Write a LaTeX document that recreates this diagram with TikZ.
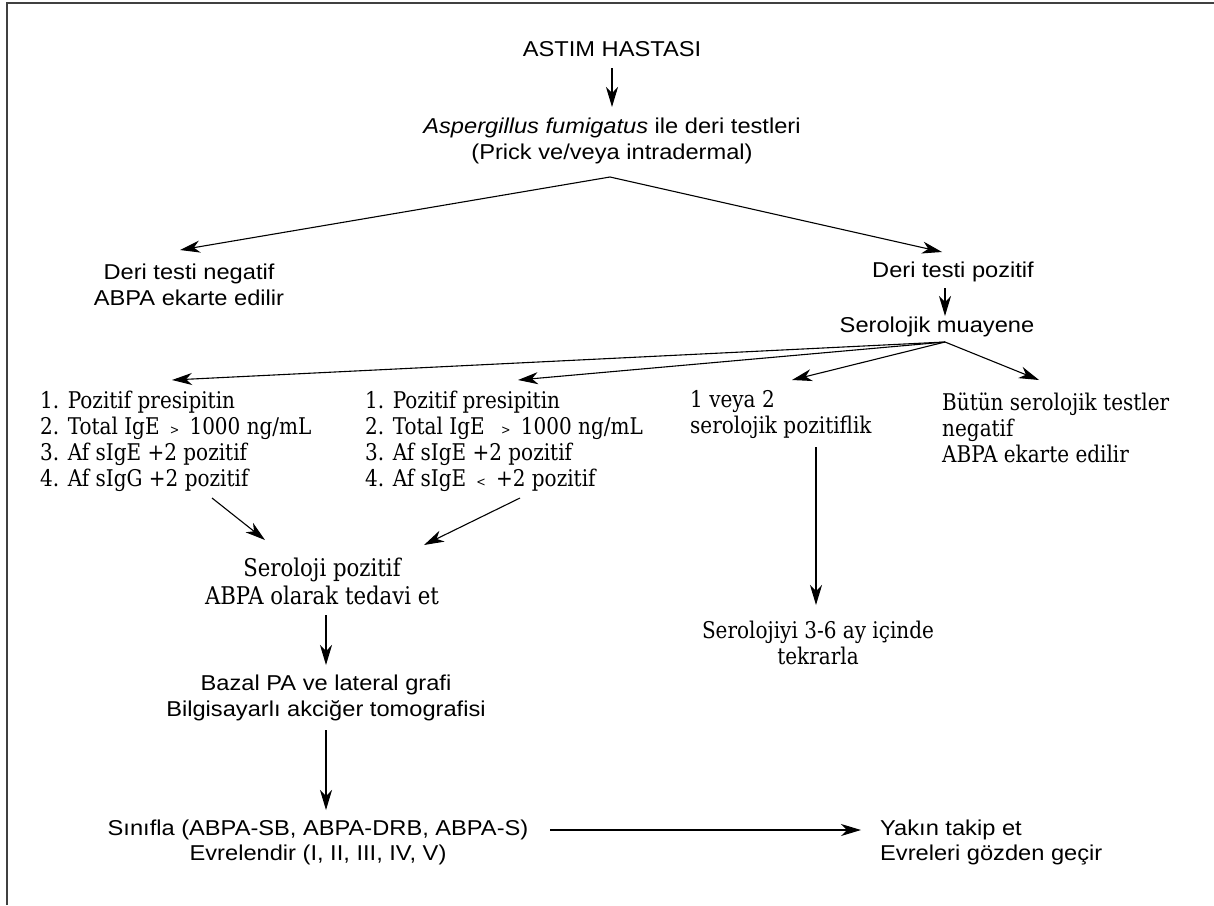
\documentclass[tikz,border=0pt]{standalone}
\usepackage{fontspec}
\usetikzlibrary{arrows.meta}
\newfontfamily\cfont[FakeStretch=1.1]{Liberation Sans}
\newfontfamily\sfont[FakeStretch=0.87]{DejaVu Serif}
\newcommand{\smsym}[1]{{\fontsize{13}{13}\selectfont #1}}
\begin{document}
\begin{tikzpicture}[x=1pt,y=-1pt,
  cond/.style={inner sep=0pt, align=center, font=\cfont\fontsize{21.5}{25}\selectfont},
  condb/.style={inner sep=0pt, align=center, font=\cfont\fontsize{21.5}{26}\selectfont},
  wide/.style={inner sep=0pt, align=center, font=\sfont\fontsize{23}{26}\selectfont},
  widel/.style={inner sep=0pt, align=left, anchor=west, font=\sfont\fontsize{23}{26}\selectfont},
  arr/.style={line width=1.1pt, -{Stealth[length=20pt,width=12pt,inset=6pt]}},
  frame/.style={line width=2pt, draw=black!75}
]
\useasboundingbox (0,0) rectangle (1214,905);
\draw[frame] (7,905) -- (7,3) -- (1214,3);

\node[cond] (astim) at (612,49) {ASTIM HASTASI};
\node[condb] (asper) at (612,141) {{\itshape Aspergillus fumigatus} ile deri testleri\\(Prick ve/veya intradermal)};
\node[condb] (neg) at (189,285) {Deri testi negatif\\ABPA ekarte edilir};
\node[cond] (pos) at (953,272) {Deri testi pozitif};
\node[cond] (sero) at (937,327) {Serolojik muayene};
\node[widel] (l1) at (40,441) {1. Pozitif presipitin\\2. Total IgE \,\smsym{>}\, 1000 ng/mL\\3. Af sIgE +2 pozitif\\4. Af sIgG +2 pozitif};
\node[widel] (l2) at (365,441) {1. Pozitif presipitin\\2. Total IgE~ \,\smsym{>}\, 1000 ng/mL\\3. Af sIgE +2 pozitif\\4. Af sIgE \,\smsym{<}\, +2 pozitif};
\node[widel] (l3) at (690,415) {1 veya 2\\serolojik pozitiflik};
\node[widel] (l4) at (942,428) {Bütün serolojik testler\\negatif\\ABPA ekarte edilir};
\node[wide, font=\sfont\fontsize{24.4}{28}\selectfont] (spoz) at (322,581) {Seroloji pozitif\\ABPA olarak tedavi et};
\node[wide] (tekrar) at (818,643) {Serolojiyi 3-6 ay içinde\\tekrarla};
\node[condb] (bazal) at (326,698) {Bazal PA ve lateral grafi\\Bilgisayarlı akciğer tomografisi};
\node[cond] (sinif) at (318,842) {Sınıfla (ABPA-SB, ABPA-DRB, ABPA-S)\\Evrelendir (I, II, III, IV, V)};
\node[cond, align=left, anchor=west] (yakin) at (880,842) {Yakın takip et\\Evreleri gözden geçir};

\coordinate (a1s) at (612,68);   \coordinate (a1e) at (612,107);
\coordinate (apex) at (610,177);
\coordinate (negt) at (180,250); \coordinate (post) at (942,252);
\coordinate (p1s) at (945,288);  \coordinate (p1e) at (945,316);
\coordinate (hub) at (945,342);
\coordinate (h1) at (172,380); \coordinate (h2) at (518,380);
\coordinate (h3) at (792,380); \coordinate (h4) at (1039,380);
\coordinate (c1s) at (212,498); \coordinate (c1e) at (265,540);
\coordinate (c2s) at (520,498); \coordinate (c2e) at (424,545);
\coordinate (d1s) at (326,615); \coordinate (d1e) at (326,665);
\coordinate (v3s) at (816,447); \coordinate (v3e) at (816,605);
\coordinate (d2s) at (326,730); \coordinate (d2e) at (326,810);
\coordinate (hs) at (550,830); \coordinate (he) at (861,830);

\draw[arr] (a1s) -- (a1e);
\draw[arr] (apex) -- (negt);
\draw[arr] (apex) -- (post);
\draw[arr] (p1s) -- (p1e);
\draw[arr] (hub) -- (h1);
\draw[arr] (hub) -- (h2);
\draw[arr] (hub) -- (h3);
\draw[arr] (hub) -- (h4);
\draw[arr] (c1s) -- (c1e);
\draw[arr] (c2s) -- (c2e);
\draw[arr] (d1s) -- (d1e);
\draw[arr] (v3s) -- (v3e);
\draw[arr] (d2s) -- (d2e);
\draw[arr] (hs) -- (he);
\end{tikzpicture}
\end{document}
